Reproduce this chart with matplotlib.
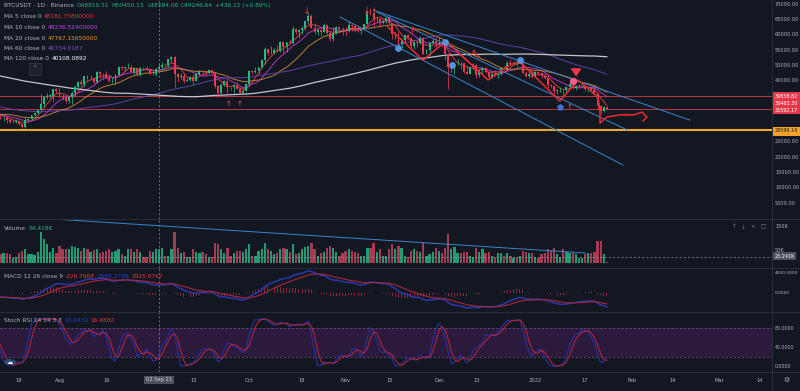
import matplotlib
matplotlib.use('Agg')
import matplotlib.pyplot as plt
from matplotlib.patches import Rectangle, Circle
from matplotlib.lines import Line2D
import numpy as np
import pandas as pd

# ---- data (prices in thousands USDT, volume in thousands BTC) ----
start = pd.Timestamp('2021-07-13')

# closes 14 Mar - 12 Jul 2021, only used to warm up the MAs / oscillators
warmup_close = [
    59.0, 55.6, 56.9, 58.9, 57.6, 58.3, 58.1, 57.4, 54.5, 54.3, 52.3, 51.3, 55.1, 55.8, 55.8, 57.6, 58.8, 58.9,
    59.1, 59.0, 57.1, 58.2, 59.1, 58.0, 56.0, 58.1, 58.1, 59.8, 59.9, 59.8, 63.6, 62.9, 63.2, 61.3, 60.0, 56.2,
    55.7, 56.5, 53.8, 51.7, 51.1, 50.1, 49.1, 54.0, 55.0, 54.8, 53.6, 57.7,
    57.8, 56.6, 57.2, 53.2, 57.5, 56.4, 57.3, 58.9, 58.3, 55.8, 56.7, 49.5, 49.7, 49.9, 46.8, 46.4, 43.6, 42.9,
    37.0, 40.7, 37.3, 37.5, 34.7, 38.8, 38.4, 39.3, 38.5, 35.7, 34.6, 35.7, 37.3,
    36.7, 37.6, 39.2, 36.9, 35.5, 35.8, 33.6, 33.4, 37.4, 36.7, 37.3, 35.6, 39.0, 40.5, 40.1, 38.3, 38.1, 35.8,
    35.5, 35.6, 31.7, 32.5, 33.7, 34.7, 31.6, 32.2, 34.7, 34.5, 35.9, 35.0,
    33.5, 33.8, 34.7, 35.3, 33.7, 34.2, 33.9, 32.9, 33.8, 33.5, 34.3, 33.1]

# 13 Jul 2021 - 24 Jan 2022, daily
close = [
    32.7, 32.8, 31.9, 31.4, 31.5, 31.8, 30.8, 29.8, 32.1, 32.3, 33.6, 34.3, 35.4, 37.3, 39.4, 40.0, 40.0, 42.2, 41.6,
    39.9, 39.2, 38.2, 39.7, 40.9, 42.8, 44.6, 43.8, 46.3, 45.6, 45.6, 44.4, 47.8, 47.1, 47.0, 45.9, 44.7, 44.7,
    46.8, 49.3, 48.9, 49.3, 49.5, 47.7, 49.0, 46.9, 49.1, 48.9, 48.8, 47.0, 47.2,
    48.8, 49.2, 50.0, 49.9, 51.8, 52.7, 46.9, 46.1, 46.4, 44.9, 45.2, 46.1, 44.9, 47.1, 48.2, 47.8, 47.3, 48.3,
    47.3, 43.0, 40.7, 43.6, 44.9, 42.8, 42.7, 43.2, 42.2, 41.0, 41.5, 43.8,
    48.1, 47.7, 48.2, 49.2, 51.5, 55.3, 53.8, 53.9, 55.0, 54.7, 57.5, 56.0, 57.4, 57.3, 61.7, 60.9, 61.5, 62.0,
    64.3, 66.0, 62.2, 60.7, 61.3, 60.9, 63.1, 60.3, 58.5, 60.6, 62.3, 61.9, 61.3,
    61.0, 63.2, 62.9, 61.4, 61.0, 61.5, 63.3, 67.5, 66.9, 64.9, 64.9, 64.2, 64.4, 65.5, 63.6, 60.1, 60.4, 56.9,
    58.1, 59.7, 58.7, 56.3, 57.6, 57.2, 58.9, 53.7, 54.8, 57.3, 57.8, 57.0,
    57.2, 56.5, 53.6, 49.4, 49.4, 50.6, 50.6, 50.5, 47.7, 47.2, 49.4, 50.1, 46.7, 48.4, 48.9, 47.6, 46.2, 46.9,
    46.7, 46.9, 49.0, 48.6, 50.8, 50.4, 50.8, 50.7, 50.7, 47.5, 46.5, 47.1, 46.2,
    47.7, 47.3, 46.4, 45.8, 43.4, 43.1, 41.6, 41.7, 41.9, 41.8, 42.7, 43.9, 42.6, 43.1, 43.1, 43.1, 42.2, 42.4,
    41.7, 40.7, 36.5, 35.1, 36.3, 35.59217]
high = [
    33.3, 33.1, 33.2, 32.2, 31.9, 32.4, 31.9, 31.1, 32.9, 32.6, 33.7, 34.5, 35.4, 40.5, 39.5, 40.9, 40.6, 42.3, 42.4,
    42.6, 40.5, 39.8, 39.9, 41.4, 43.4, 44.7, 45.3, 46.5, 46.7, 46.8, 46.2, 48.1, 48.0, 47.4, 48.0, 47.2, 46.0,
    47.0, 49.4, 49.8, 49.5, 50.5, 49.9, 49.2, 49.3, 49.2, 49.3, 49.8, 48.9, 48.2,
    48.9, 50.5, 51.0, 50.6, 51.9, 52.9, 52.9, 47.3, 47.4, 47.1, 45.9, 46.5, 46.9, 47.3, 48.5, 48.5, 48.2, 48.8,
    48.4, 47.4, 43.6, 44.0, 45.0, 45.2, 42.9, 43.9, 44.4, 42.8, 42.6, 44.1,
    48.5, 48.4, 49.2, 49.5, 51.9, 55.8, 55.3, 56.1, 55.5, 56.6, 57.8, 57.7, 57.5, 58.5, 62.9, 62.0, 61.7, 62.6,
    64.5, 67.0, 66.6, 63.7, 61.7, 61.5, 63.7, 63.3, 61.5, 62.5, 62.9, 62.3, 62.4,
    62.4, 64.3, 63.5, 63.1, 62.6, 61.6, 63.3, 67.8, 68.5, 69.0, 65.6, 65.5, 64.9, 65.6, 66.3, 63.6, 60.8, 60.9,
    58.4, 59.9, 60.0, 59.3, 57.9, 57.8, 59.4, 59.2, 55.3, 57.4, 58.9, 59.2,
    59.1, 57.4, 57.6, 53.9, 49.7, 50.9, 51.9, 51.2, 50.8, 50.1, 49.5, 50.8, 50.4, 48.7, 49.5, 49.4, 48.0, 47.3,
    48.3, 47.5, 49.3, 49.6, 51.4, 51.8, 51.2, 51.3, 52.0, 50.7, 48.1, 47.9, 48.5,
    47.9, 47.9, 47.5, 47.5, 47.0, 43.7, 43.1, 42.3, 42.8, 42.2, 43.0, 44.3, 44.5, 43.4, 43.8, 43.5, 43.2, 42.7,
    42.6, 43.5, 41.1, 36.8, 36.6, 36.5]
low = [
    32.2, 31.6, 31.1, 31.0, 31.2, 31.1, 30.5, 29.3, 29.5, 31.7, 32.0, 33.4, 33.9, 35.3, 36.4, 38.8, 39.2, 38.3, 41.0,
    39.4, 38.7, 37.6, 37.5, 37.3, 39.9, 42.5, 43.3, 42.8, 44.7, 45.4, 43.8, 44.2, 45.6, 45.5, 45.7, 44.4, 44.2,
    43.9, 46.6, 48.3, 48.1, 49.0, 47.6, 47.1, 46.3, 46.4, 48.4, 48.3, 46.9, 46.7,
    46.5, 48.6, 48.4, 49.5, 49.5, 50.9, 42.8, 44.4, 45.5, 44.2, 44.8, 44.8, 43.4, 44.7, 46.8, 47.1, 46.8, 47.1,
    46.9, 42.5, 39.6, 40.6, 43.1, 40.7, 41.7, 40.8, 42.1, 40.9, 40.8, 41.4,
    43.3, 47.1, 47.4, 46.9, 49.1, 50.4, 53.4, 53.6, 53.7, 54.1, 54.4, 53.9, 54.3, 56.8, 56.9, 60.2, 58.9, 60.1,
    61.3, 63.5, 62.0, 60.0, 59.7, 59.5, 60.7, 59.8, 58.0, 57.8, 60.2, 60.7, 59.9,
    59.4, 60.7, 61.0, 60.7, 60.7, 60.1, 61.3, 63.3, 66.3, 62.8, 64.1, 62.3, 63.4, 63.6, 63.4, 58.6, 58.4, 56.5,
    55.6, 57.4, 58.5, 55.6, 55.3, 55.9, 57.0, 53.6, 53.6, 53.3, 56.7, 55.9,
    56.5, 55.8, 51.7, 42.0, 47.8, 47.1, 50.0, 48.6, 47.3, 46.9, 46.9, 48.7, 45.7, 46.0, 46.6, 47.5, 45.5, 45.9,
    46.4, 45.6, 46.6, 48.4, 48.1, 50.4, 50.2, 49.4, 50.5, 47.3, 46.1, 45.9, 45.7,
    46.2, 46.7, 45.7, 45.5, 42.5, 42.5, 40.6, 40.5, 41.2, 39.6, 41.3, 42.5, 42.3, 41.7, 42.6, 42.7, 41.5, 41.3,
    41.1, 40.5, 35.4, 34.0, 34.6, 35.3]
volume = [
    38, 42, 40, 35, 22, 25, 40, 48, 58, 35, 38, 32, 45, 125, 95, 75, 45, 60, 40,
    70, 55, 55, 55, 70, 65, 60, 50, 62, 55, 45, 52, 58, 40, 45, 50, 55, 45, 50, 58, 35, 30, 55, 55, 45, 55, 45,
    25, 25, 50, 45,
    55, 55, 60, 30, 30, 55, 125, 60, 40, 45, 25, 25, 55, 45, 40, 45, 35, 25, 25, 80, 75, 55, 40, 60, 30, 40, 50,
    50, 45, 55,
    75, 30, 30, 50, 55, 80, 55, 50, 35, 40, 55, 60, 55, 45, 75, 35, 40, 55, 65, 70, 80, 55, 30, 40, 45, 60, 70,
    60, 45, 30, 40,
    50, 55, 50, 45, 40, 30, 30, 60, 60, 80, 45, 55, 30, 30, 55, 75, 55, 70, 60, 30, 25, 50, 55, 50, 45, 80, 30,
    35, 45, 60,
    50, 40, 60, 115, 55, 65, 40, 40, 45, 45, 30, 25, 60, 45, 55, 40, 45, 30, 25, 40, 40, 30, 40, 30, 20, 25, 30,
    50, 45, 40, 40,
    25, 20, 35, 40, 55, 50, 60, 35, 25, 55, 45, 40, 40, 35, 20, 20, 35, 40, 40, 45, 90, 90, 38, 6]

tick_dates = ['2021-07-19', '2021-08-01', '2021-08-16', '2021-09-13', '2021-10-01', '2021-10-18',
              '2021-11-01', '2021-11-15', '2021-12-01', '2021-12-13', '2022-01-01', '2022-01-17',
              '2022-02-01', '2022-02-14', '2022-03-01', '2022-03-14']
tick_labels = ['19', 'Aug', '16', '13', 'Oct', '18', 'Nov', '15', 'Dec', '13', '2022', '17',
               'Feb', '14', 'Mar', '14']
cross_date = '2021-09-02'

hlines_red = [39838.82, 35592.17]
price_tags_red = ['39838.82', '36463.30', '35592.17']
support = 28599.14

# drawings (day index from 13 Jul, price in k)
trend_lines = [((119.8, 68.0), (221.7, 32.0)),
               ((121.1, 67.3), (201.5, 28.8)),
               ((109.2, 65.7), (200.2, 17.3))]
vol_trend = ((18.2, 175), (188.0, 40))
zigzag = [(124.6, 62.4), (135.9, 51.6), (143.3, 57.8), (156.8, 45.1), (162.2, 49.0), (164.5, 50.3),
          (167.1, 51.0), (179.9, 38.2), (185.7, 45.1), (189.6, 41.8), (192.2, 39.2), (192.8, 35.3),
          (192.8, 31.0), (195.0, 33.0), (199.2, 33.7), (203.7, 33.7), (206.3, 34.6), (207.9, 33.0),
          (206.6, 31.7)]
squiggles = [[(132.3, 60.2), (132.6, 62.3), (133.9, 61.2)],
             [(151.4, 53.2), (152.3, 54.8), (153.0, 53.4), (154.2, 52.6)]]
blue_dots = [(127.8, 55.6), (143.0, 57.5), (145.2, 50.0), (167.1, 51.6)]
pink_dot = (184.1, 44.8)
blue_up = (180.0, 36.3)
down_arrows = [(98.6, 67.5), (118.0, 67.5)]
big_arrow = (185.1, 47.9)
up_arrows = [(73.2, 37.4), (77.0, 37.4), (183.1, 36.2)]

# ---- indicators ----
n_w = len(warmup_close)
all_c = pd.Series(warmup_close + close) * 1000
c = np.array(close) * 1000
o = np.r_[warmup_close[-1], close[:-1]] * 1000
h = np.array(high) * 1000
l = np.array(low) * 1000
v = np.array(volume) * 1000
d = np.arange(len(close))

ma_periods = [5, 10, 20, 60, 120]
ma_colors = ['#e0403f', '#c03ad0', '#c98a34', '#6446b0', '#d8d8dc']
mas = [all_c.rolling(p).mean().values[n_w:] for p in ma_periods]

ema12 = all_c.ewm(span=12, adjust=False).mean()
ema26 = all_c.ewm(span=26, adjust=False).mean()
macd = ema12 - ema26
signal = macd.ewm(span=9, adjust=False).mean()
hist = (macd - signal).values[n_w:]
macd = macd.values[n_w:]
signal = signal.values[n_w:]

delta = all_c.diff()
gain = delta.clip(lower=0).ewm(alpha=1 / 14, adjust=False).mean()
loss = (-delta.clip(upper=0)).ewm(alpha=1 / 14, adjust=False).mean()
rsi = 100 - 100 / (1 + gain / loss)
stoch = 100 * (rsi - rsi.rolling(14).min()) / (rsi.rolling(14).max() - rsi.rolling(14).min())
k_line = stoch.rolling(3).mean()
d_line = k_line.rolling(3).mean()
k_line = k_line.values[n_w:]
d_line = d_line.values[n_w:]

cross_x = (pd.Timestamp(cross_date) - start).days
tick_x = [(pd.Timestamp(t) - start).days for t in tick_dates]

# ---- figure ----
BG = '#131722'
TXT = '#b2b5be'
GRID = '#2a2e39'
UP, DN = '#26b982', '#ec3a4f'
VUP, VDN = '#239b72', '#a53a50'
W, H = 800, 391


def px(x, y):
    return x / W, 1 - y / H


fig = plt.figure(figsize=(8, 3.91), dpi=100, facecolor=BG)
renderer = fig.canvas.get_renderer()


def line_text(x, y, parts, fs=4.2, gap=2.2):
    # write coloured pieces one after another on one row
    for s, col in parts:
        t = fig.text(*px(x, y), s, fontsize=fs, color=col, va='center')
        x += t.get_window_extent(renderer).width + gap


rw = 772 / W
ax = fig.add_axes([0, 1 - 219 / H, rw, 219 / H])
ax_v = fig.add_axes([0, 1 - 268 / H, rw, 49 / H])
ax_m = fig.add_axes([0, 1 - 312 / H, rw, 44 / H])
ax_s = fig.add_axes([0, 1 - 372 / H, rw, 60 / H])

for a in (ax, ax_v, ax_m, ax_s):
    a.set_facecolor(BG)
    for s in a.spines.values():
        s.set_visible(False)
    a.yaxis.tick_right()
    a.tick_params(axis='y', length=0, pad=2.2, labelsize=3.6, labelcolor=TXT)
    a.set_xlim(-0.13, 248.1)
    a.set_xticks([])
    a.axvline(cross_x, color='#8a8d96', lw=0.5, ls=(0, (3, 3)))

# main price pane
ax.set_ylim(-327, 71242)
ticks = [5000, 10000, 15000, 20000, 25000, 45000, 50000, 55000, 60000, 65000, 70000]
ax.set_yticks(ticks)
ax.set_yticklabels(['%.2f' % t for t in ticks])

for y in hlines_red:
    ax.axhline(y, color='#b8393d', lw=0.7)
ax.axhline(support, color='#f0a52c', lw=1.5)

for i, (per, col) in enumerate(zip(ma_periods, ma_colors)):
    ax.plot(d, mas[i], color=col, lw=0.7 if per < 120 else 0.9, alpha=0.9, zorder=2)

cols = np.where(c >= o, UP, DN)
ax.vlines(d, l, h, colors=cols, lw=0.55, zorder=3)
ax.bar(d, np.maximum(np.abs(c - o), 80), bottom=np.minimum(o, c), width=0.62,
       color=cols, lw=0, zorder=3)

for (x0, y0), (x1, y1) in trend_lines:
    ax.plot([x0, x1], [y0 * 1000, y1 * 1000], color='#3a86cc', lw=0.7, zorder=4)

zx, zy = zip(*zigzag)
ax.plot(zx, np.array(zy) * 1000, color='#ec2a30', lw=1.1, zorder=6, solid_joinstyle='round')
for sq in squiggles:
    sx, sy = zip(*sq)
    ax.plot(sx, np.array(sy) * 1000, color='#ec2a30', lw=0.8, zorder=6)

bx, by = zip(*blue_dots)
ax.scatter(bx, np.array(by) * 1000, s=24, color='#5096dc', zorder=7, lw=0)
ax.scatter([pink_dot[0]], [pink_dot[1] * 1000], s=28, color='#ef5f8a', zorder=7, lw=0)
ax.scatter([blue_up[0]], [blue_up[1] * 1000], s=28, marker='p', color='#3d6fd0', zorder=7, lw=0)
for ax_x, ax_y in down_arrows:
    ax.text(ax_x, ax_y * 1000, '↓', color='#ec2a30', fontsize=7, ha='center', va='center', zorder=7)
for ax_x, ax_y in up_arrows:
    ax.text(ax_x, ax_y * 1000, '↑', color='#f0587a', fontsize=5, ha='center', va='center', zorder=7)
ax.annotate('', xy=(big_arrow[0], (big_arrow[1] - 2.6) * 1000),
            xytext=(big_arrow[0], (big_arrow[1] + 2.0) * 1000),
            arrowprops=dict(arrowstyle='simple,head_width=0.8,head_length=0.6,tail_width=0.35',
                            color='#f2364a', lw=0), zorder=8)

# volume pane
ax_v.set_ylim(-20000, 176000)
ax_v.set_yticks([50000, 150000])
ax_v.set_yticklabels(['50K', '150K'])
ax_v.bar(d, v, width=0.72, color=np.where(c >= o, VUP, VDN), lw=0)
ax_v.plot([vol_trend[0][0], vol_trend[1][0]], [vol_trend[0][1] * 1000, vol_trend[1][1] * 1000],
          color='#3a86cc', lw=0.7)
ax_v.axhline(25241, color='#9598a1', lw=0.5, ls=(0, (3, 3)))

# MACD pane
ax_m.set_ylim(-3800, 5000)
ax_m.set_yticks([0, 4000])
ax_m.set_yticklabels(['0.0000', '4000.0000'])
ax_m.tick_params(axis='y', labelsize=3.2, pad=1.8)
ax_m.bar(d, hist, width=0.3, color='#8a2a3b', lw=0)
ax_m.plot(d, macd, color='#2a38b0', lw=1.1)
ax_m.plot(d, signal, color='#a8283c', lw=0.8)

# Stoch RSI pane
ax_s.set_ylim(-11.6, 114.7)
ax_s.set_yticks([0, 40, 80])
ax_s.set_yticklabels(['0.0000', '40.0000', '80.0000'])
ax_s.tick_params(axis='y', labelsize=3.4, pad=1.8)
ax_s.axhspan(20, 80, color='#2c1a3c', lw=0)
for y in (20, 80):
    ax_s.axhline(y, color='#7a5c8a', lw=0.5, ls=(0, (3, 3)))
ax_s.plot(d, k_line, color='#2632a4', lw=0.8)
ax_s.plot(d, d_line, color='#b0253e', lw=0.8)
ax_s.set_xticks(tick_x)
ax_s.set_xticklabels(tick_labels)
ax_s.tick_params(axis='x', length=0, pad=4.2, labelsize=3.7, labelcolor=TXT)

# separators
for y in (219, 268, 312, 372):
    fig.add_artist(Line2D([0, 1], [1 - y / H] * 2, color=GRID, lw=0.7))
fig.add_artist(Line2D([rw, rw], [0, 1], color=GRID, lw=0.7))

# price tags
fig.add_artist(Rectangle(px(772, 114), 28 / W, 22 / H, color='#e5384b', lw=0))
for t, yy in zip(price_tags_red, (96.5, 103.5, 110.5)):
    fig.text(*px(774.5, yy), t, fontsize=3.5, color='white', va='center')
fig.add_artist(Rectangle(px(772, 135.5), 28 / W, 9 / H, color='#f2a22a', lw=0))
fig.text(*px(774.5, 131), '%.2f' % support, fontsize=3.5, color='#1c1c1c', va='center')
fig.text(*px(774.5, 256), '25.241K', fontsize=3.5, color='white', va='center',
         bbox=dict(boxstyle='square,pad=0.25', fc='#4c525e', ec='none'))
fig.text(*px(159, 380), '02 Sep 21', fontsize=3.7, color='#d1d4dc', ha='center', va='center',
         bbox=dict(boxstyle='square,pad=0.35', fc='#4c525e', ec='none'))
fig.text(*px(786, 380), '⚙', fontsize=5, color=TXT, ha='center', va='center')

# legends
line_text(4, 5.5, [('BTCUSDT · 1D · Binance', TXT), ('O48810.51', UP), ('H50450.13', UP),
                   ('L48584.06', UP), ('C49246.64', UP), ('+436.12 (+0.89%)', UP)], gap=2.6)

ma_vals = ['48181.75800000', '48236.52400000', '47767.15650000', '40734.0187', '40108.0892']
ma_text_cols = ['#e53935', '#d23ce6', '#f0932b', '#7e57c2', '#ffffff']
for i, (per, val) in enumerate(zip(ma_periods, ma_vals)):
    line_text(4, 17 + i * 10.5, [('MA %d close 0' % per, TXT), (val, ma_text_cols[i])])
fig.text(*px(35, 69), '⌃', fontsize=4, color=TXT, ha='center', va='center',
         bbox=dict(boxstyle='square,pad=0.6', fc='#1e222d', ec='#363a45', lw=0.5))

line_text(4, 228, [('Volume', TXT), ('54.418K', UP)])
for x, s in ((734, '↑'), (743, '↓'), (753, '×'), (763, '□')):
    fig.text(*px(x, 227), s, fontsize=4, color='#787b86', ha='center', va='center')

line_text(4, 276, [('MACD 12 26 close 9', TXT), ('-326.7968', '#e53935'), ('1588.2799', '#2a38c8'),
                   ('1915.0767', '#e53935')])
line_text(4, 320, [('Stoch RSI 14 14 3 3', TXT), ('10.6432', '#2a38c8'), ('16.4882', '#e53935')])

fig.add_artist(Circle(px(10, 362), 6 / W, color='#2b4a7a', lw=0))
fig.text(*px(10, 362), '☁', fontsize=4.5, color='white', ha='center', va='center')

fig.savefig('out.png', dpi=100, facecolor=BG)
